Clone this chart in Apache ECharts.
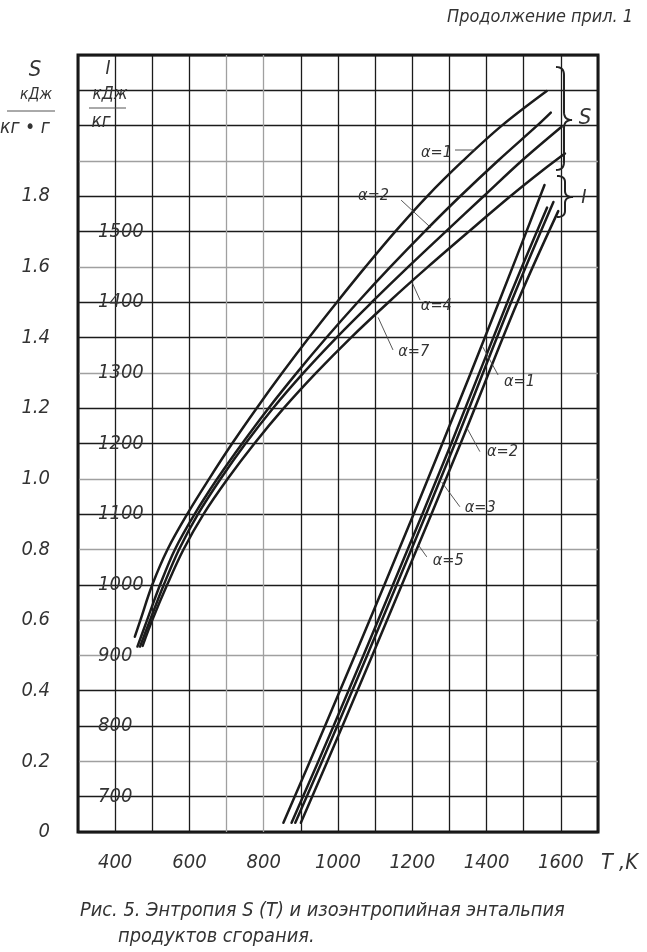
<!DOCTYPE html>
<html>
<head>
<meta charset="utf-8">
<script src="https://cdn.jsdelivr.net/npm/echarts@6/dist/echarts.min.js"></script>
<style>
html,body{margin:0;padding:0;background:#ffffff;}
#c{width:647px;height:952px;}
</style>
</head>
<body>
<div id="c"></div>
<script>
// ---------------- data ----------------
// tick labels
const tempTicks = [400, 600, 800, 1000, 1200, 1400, 1600];
const entropyTicks = [0, 0.2, 0.4, 0.6, 0.8, 1.0, 1.2, 1.4, 1.6, 1.8];
const enthalpyTicks = [700, 800, 900, 1000, 1100, 1200, 1300, 1400, 1500];

// Entropy S(T), kJ/(kg·K)
const sAlpha1T = [453, 468, 500, 541, 594, 653, 715, 781, 850, 922, 997, 1074, 1154, 1240, 1336, 1441, 1562];
const sAlpha1S = [0.553, 0.6, 0.7, 0.8, 0.9, 1.0, 1.1, 1.2, 1.3, 1.4, 1.5, 1.6, 1.7, 1.8, 1.9, 2.0, 2.098];
const sAlpha2T = [460, 486, 521, 561, 614, 675, 742, 813, 889, 969, 1053, 1141, 1233, 1329, 1430, 1536, 1573];
const sAlpha2S = [0.525, 0.6, 0.7, 0.8, 0.9, 1.0, 1.1, 1.2, 1.3, 1.4, 1.5, 1.6, 1.7, 1.8, 1.9, 2.0, 2.037];
const sAlpha4T = [467, 494, 531, 572, 623, 684, 751, 825, 907, 996, 1091, 1189, 1290, 1392, 1494, 1602];
const sAlpha4S = [0.525, 0.6, 0.7, 0.8, 0.9, 1.0, 1.1, 1.2, 1.3, 1.4, 1.5, 1.6, 1.7, 1.8, 1.9, 1.997];
const sAlpha7T = [474, 500, 540, 584, 638, 703, 775, 854, 941, 1035, 1136, 1242, 1352, 1464, 1553, 1611];
const sAlpha7S = [0.527, 0.6, 0.7, 0.8, 0.9, 1.0, 1.1, 1.2, 1.3, 1.4, 1.5, 1.6, 1.7, 1.8, 1.875, 1.921];

// Isentropic enthalpy I(T), kJ/kg
const iAlpha1T = [853, 965, 1125, 1281, 1433, 1556];
const iAlpha1I = [663, 800, 1000, 1200, 1400, 1566];
const iAlpha2T = [875, 988, 1148, 1305, 1456, 1563];
const iAlpha2I = [663, 800, 1000, 1200, 1400, 1534];
const iAlpha3T = [885, 998, 1158, 1315, 1466, 1580];
const iAlpha3I = [663, 800, 1000, 1200, 1400, 1542];
const iAlpha5T = [900, 1012, 1172, 1330, 1483, 1593];
const iAlpha5I = [663, 800, 1000, 1200, 1400, 1529];

// curve annotations (label anchor, leader start, leader end) in (T, S) axis units
const curveNotes = [
  {text: 'α=1', at: [1307, 1.922], align: 'right', from: [1315, 1.931], to: [1369, 1.931]},
  {text: 'α=2', at: [1054, 1.800], align: 'left',  from: [1170, 1.789], to: [1250, 1.711]},
  {text: 'α=4', at: [1223, 1.489], align: 'left',  from: [1221, 1.506], to: [1199, 1.557]},
  {text: 'α=7', at: [1162, 1.359], align: 'left',  from: [1148, 1.365], to: [1108, 1.457]},
  {text: 'α=1', at: [1447, 1.274], align: 'left',  from: [1431, 1.294], to: [1390, 1.373]},
  {text: 'α=2', at: [1401, 1.076], align: 'left',  from: [1382, 1.077], to: [1347, 1.144]},
  {text: 'α=3', at: [1341, 0.919], align: 'left',  from: [1328, 0.921], to: [1279, 0.991]},
  {text: 'α=5', at: [1255, 0.769], align: 'left',  from: [1239, 0.779], to: [1216, 0.813]}
];

// ---------------- styling ----------------
const FONT = "'DejaVu Sans Condensed','Liberation Sans',sans-serif";
const INK = '#1b1b1b';
const TXT = '#333333';
const LIGHT = '#a0a0a0';
const lightS = [2, 5, 6, 8, 10, 13, 16, 19];
const lightT = [700, 800];
const sLineColors = [];
for (let k = 0; k <= 22; k++) sLineColors.push(lightS.indexOf(k) >= 0 ? LIGHT : INK);
const tLineColors = [];
for (let t = 300; t <= 1700; t += 100) tLineColors.push(lightT.indexOf(t) >= 0 ? LIGHT : INK);

function pairs(xs, ys) { return xs.map((x, i) => [x, ys[i]]); }

const measureCtx = document.createElement('canvas').getContext('2d');
function fitSize(text, width, base) {
  measureCtx.font = 'italic ' + base + 'px ' + FONT;
  const w = measureCtx.measureText(text).width;
  return base * width / w;
}
function font(size) { return 'italic ' + size.toFixed(2) + 'px ' + FONT; }

const chart = echarts.init(document.getElementById('c'), null, {renderer: 'canvas', width: 647, height: 952});

const sCurves = [['S α=1', sAlpha1T, sAlpha1S], ['S α=2', sAlpha2T, sAlpha2S], ['S α=4', sAlpha4T, sAlpha4S], ['S α=7', sAlpha7T, sAlpha7S]];
const iCurves = [['I α=1', iAlpha1T, iAlpha1I], ['I α=2', iAlpha2T, iAlpha2I], ['I α=3', iAlpha3T, iAlpha3I], ['I α=5', iAlpha5T, iAlpha5I]];

const series = [];
sCurves.forEach(c => series.push({
  type: 'line', name: c[0], xAxisIndex: 0, yAxisIndex: 0, data: pairs(c[1], c[2]),
  showSymbol: false, smooth: 0.35, silent: true, z: 5,
  lineStyle: {color: INK, width: 2.5, cap: 'round'}
}));
iCurves.forEach(c => series.push({
  type: 'line', name: c[0], xAxisIndex: 0, yAxisIndex: 1, data: pairs(c[1], c[2]),
  showSymbol: false, smooth: 0.35, silent: true, z: 5,
  lineStyle: {color: INK, width: 2.5, cap: 'round'}
}));

const tickFont = {fontFamily: FONT, fontStyle: 'italic', fontSize: 20, color: TXT};

chart.setOption({
  animation: false,
  backgroundColor: '#ffffff',
  grid: {left: 78, right: 49, top: 55, bottom: 120, show: true, borderColor: '#151515', borderWidth: 3, backgroundColor: 'rgba(0,0,0,0)'},
  xAxis: {
    type: 'value', min: 300, max: 1700, interval: 100,
    axisLine: {show: false}, axisTick: {show: false},
    axisLabel: Object.assign({margin: 21, formatter: v => tempTicks.indexOf(v) >= 0 ? String(v) : ''}, tickFont),
    splitLine: {show: true, lineStyle: {color: tLineColors, width: 1.3}}
  },
  yAxis: [
    {
      type: 'value', min: 0, max: 2.2, interval: 0.1, position: 'left',
      axisLine: {show: false}, axisTick: {show: false},
      axisLabel: Object.assign({margin: 28, formatter: v => {
        const k = Math.round(v * 10);
        const hit = entropyTicks.filter(e => Math.round(e * 10) === k);
        if (!hit.length) return '';
        return k === 0 ? '0' : hit[0].toFixed(1);
      }}, tickFont),
      splitLine: {show: true, lineStyle: {color: sLineColors, width: 1.3}}
    },
    {
      type: 'value', min: 650, max: 1750, interval: 50, position: 'left', offset: 0,
      axisLine: {show: false}, axisTick: {show: false},
      axisLabel: Object.assign({inside: true, margin: 20, formatter: v => enthalpyTicks.indexOf(v) >= 0 ? String(v) : ''}, tickFont),
      splitLine: {show: false}
    }
  ],
  series: series
});

// ---------------- annotations ----------------
function px(p) { return chart.convertToPixel({xAxisIndex: 0, yAxisIndex: 0}, p); }
const graphics = [];
function addText(text, x, y, size, align) {
  graphics.push({type: 'text', silent: true, z: 20, style: {text: text, x: x, y: y, font: font(size), fill: TXT, align: align || 'left', verticalAlign: 'middle'}});
}
function addLine(x1, y1, x2, y2, w, color) {
  graphics.push({type: 'line', silent: true, z: 20, shape: {x1: x1, y1: y1, x2: x2, y2: y2}, style: {stroke: color || '#333', lineWidth: w || 0.9}});
}
function quad(p0, c, p1, n, out) {
  for (let i = 0; i <= n; i++) {
    const t = i / n, a = (1 - t) * (1 - t), b = 2 * (1 - t) * t, d = t * t;
    out.push([a * p0[0] + b * c[0] + d * p1[0], a * p0[1] + b * c[1] + d * p1[1]]);
  }
}
function addBrace(xL, xC, xR, y0, yTip, y1, r) {
  const pts = [];
  quad([xL, y0], [xC, y0], [xC, y0 + r], 8, pts);
  quad([xC, yTip - r], [xC, yTip], [xR, yTip], 8, pts);
  quad([xR, yTip], [xC, yTip], [xC, yTip + r], 8, pts);
  quad([xC, y1 - r], [xC, y1], [xL, y1], 8, pts);
  graphics.push({type: 'polyline', silent: true, z: 20, shape: {points: pts}, style: {stroke: '#222', lineWidth: 2, fill: null}});
}

const noteSize = fitSize('α=1', 31, 20);
curveNotes.forEach(n => {
  const a = px(n.at), f = px(n.from), t = px(n.to);
  addText(n.text, a[0], a[1], noteSize, n.align);
  addLine(f[0], f[1], t[0], t[1], 0.9, '#444');
});

// braces for the two families
addBrace(556, 564, 572, 67, 120, 170, 8);
addText('S', 585, 118, 22, 'center');
addBrace(557, 565, 573, 176, 197, 217, 6);
addText('I', 584, 198, 20, 'center');

// axis units
addText('S', 35, 70, 22, 'center');
addText('кДж', 36, 95, fitSize('кДж', 32, 20), 'center');
addLine(7, 111, 55, 111, 1, '#555');
addText('кг • г', 25, 128, fitSize('кг • г', 50, 20), 'center');
addText('I', 108, 69, 19, 'center');
addText('кДж', 110, 95, fitSize('кДж', 35, 20), 'center');
addLine(89, 108, 126, 108, 1, '#555');
addText('кг', 101, 122, fitSize('кг', 19, 20), 'center');
addText('T ,K', 601, 863, fitSize('T ,K', 37, 22), 'left');

// page texts
addText('Продолжение прил. 1', 633, 17, fitSize('Продолжение прил. 1', 186, 20), 'right');
const cap1 = 'Рис. 5. Энтропия S (T) и изоэнтропийная энтальпия';
const cap2 = 'продуктов сгорания.';
const capSize = fitSize(cap1, 485, 20);
addText(cap1, 80, 911, capSize, 'left');
addText(cap2, 118, 937, capSize, 'left');

chart.setOption({graphic: graphics});
</script>
</body>
</html>
